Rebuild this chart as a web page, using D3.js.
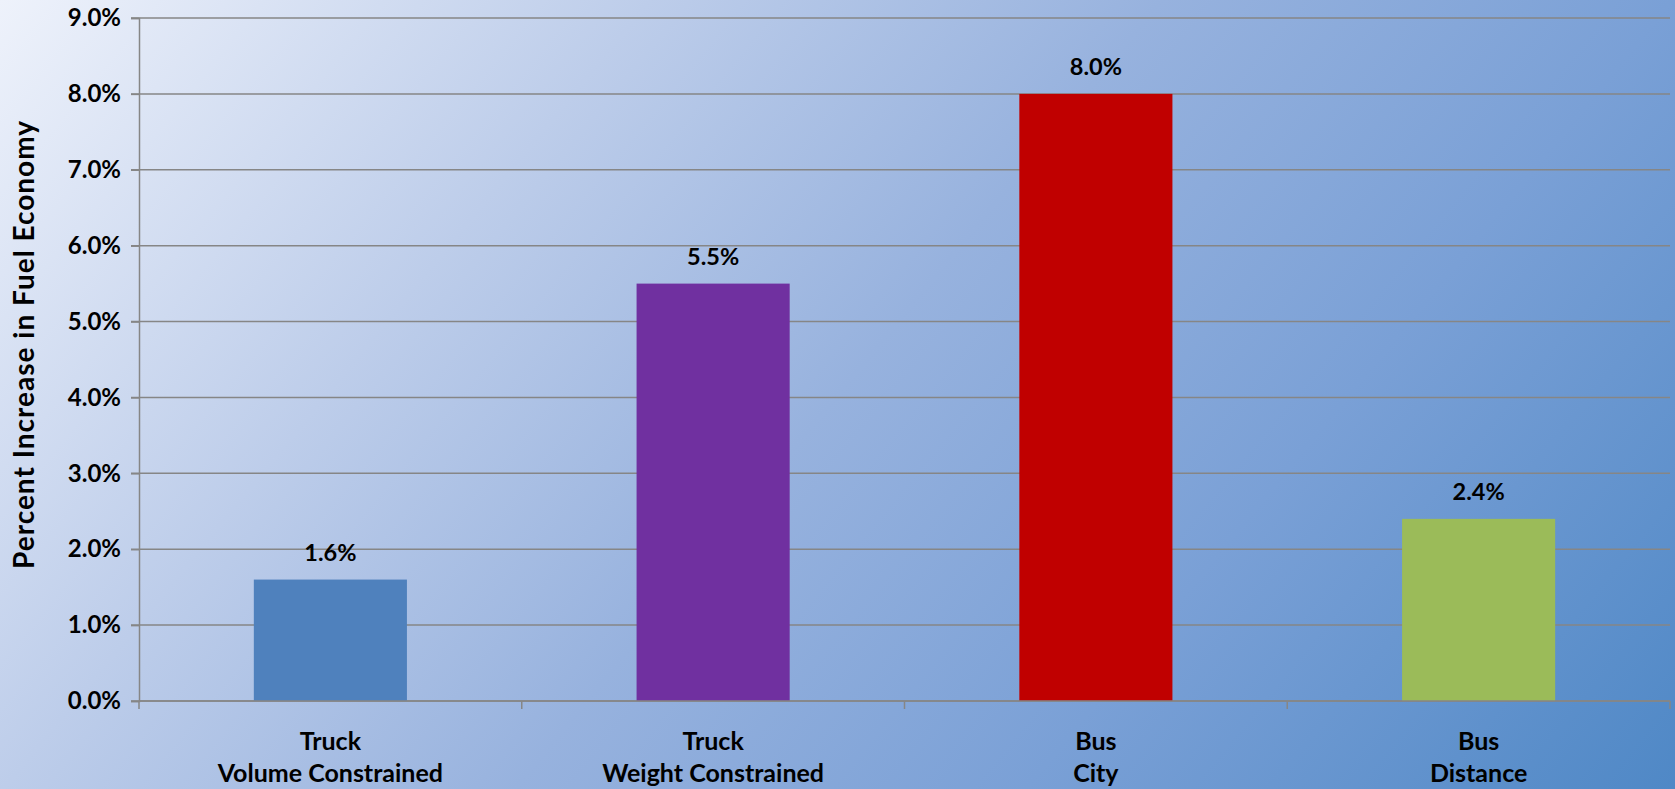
<!DOCTYPE html>
<html><head><meta charset="utf-8">
<script src="https://cdn.jsdelivr.net/npm/d3@7/dist/d3.min.js"></script>
<style>html,body{margin:0;padding:0;overflow:hidden}svg{display:block}</style>
</head><body>
<script>
const categoriesLine1 = ["Truck", "Truck", "Bus", "Bus"];
const categoriesLine2 = ["Volume Constrained", "Weight Constrained", "City", "Distance"];
const values = [0.016, 0.055, 0.080, 0.024];
const valueLabels = ["1.6%", "5.5%", "8.0%", "2.4%"];
const barColors = ["#4f81bd", "#7030a0", "#c00000", "#9bbb59"];
const yTicks = [0, 0.01, 0.02, 0.03, 0.04, 0.05, 0.06, 0.07, 0.08, 0.09];
const yTitle = "Percent Increase in Fuel Economy";

const W = 1675, H = 789;
const m = {left: 139, right: 5, top: 18, bottom: 88};
const font = "Lato, Carlito, 'Noto Sans', sans-serif";
const svg = d3.select("body").append("svg").attr("width", W).attr("height", H);
const defs = svg.append("defs");
const g0 = defs.append("linearGradient").attr("id","bg").attr("gradientUnits","userSpaceOnUse")
  .attr("x1",0).attr("y1",0).attr("x2",1389).attr("y2",1139);
[[0,"#eef2fb"],[0.28,"#bdcdea"],[0.5,"#97b2de"],[0.72,"#7aa0d6"],[1,"#4f88c6"]].forEach(s =>
  g0.append("stop").attr("offset",s[0]).attr("stop-color",s[1]));
svg.append("rect").attr("width",W).attr("height",H).attr("fill","url(#bg)");

const x = d3.scaleBand().domain(d3.range(values.length)).range([m.left, W - m.right]).paddingInner(0).paddingOuter(0);
const y = d3.scaleLinear().domain([0, 0.09]).range([H - m.bottom, m.top]);
const gridColor = "#868686";

// gridlines
svg.append("g").selectAll("line").data(yTicks).join("line")
  .attr("x1", m.left - 8).attr("x2", W - m.right)
  .attr("y1", d => y(d)).attr("y2", d => y(d))
  .attr("stroke", gridColor).attr("stroke-width", 1.5);

// y axis
const yAxis = svg.append("g").attr("transform", `translate(${m.left},0)`)
  .call(d3.axisLeft(y).tickValues(yTicks).tickFormat(d3.format(".1%")).tickSize(8).tickPadding(10));
yAxis.select(".domain").attr("stroke", gridColor).attr("stroke-width", 1.5);
yAxis.selectAll(".tick line").attr("stroke", gridColor).attr("stroke-width", 1.5);
yAxis.selectAll("text").attr("font-family", font).attr("font-weight", "bold").attr("font-size", 24).attr("fill", "#000");

// bars
const bw = x.bandwidth() * 0.4;
svg.append("g").selectAll("rect").data(values).join("rect")
  .attr("x", (d, i) => x(i) + (x.bandwidth() - bw) / 2)
  .attr("width", bw)
  .attr("y", d => y(d))
  .attr("height", d => y(0) - y(d))
  .attr("fill", (d, i) => barColors[i]);

// x axis
const xAxisG = svg.append("g").attr("transform", `translate(0,${y(0)})`);
xAxisG.append("line").attr("x1", m.left).attr("x2", W - m.right).attr("stroke", gridColor).attr("stroke-width", 1.5);
const xt = d3.range(values.length + 1).map(i => i < values.length ? x(i) : x(values.length - 1) + x.bandwidth());
xAxisG.selectAll("line.t").data(xt).join("line").attr("class","t")
  .attr("x1", d => d).attr("x2", d => d).attr("y1", 0).attr("y2", 8)
  .attr("stroke", gridColor).attr("stroke-width", 1.5);

// category labels
const cl = svg.append("g").selectAll("text").data(values).join("text")
  .attr("text-anchor", "middle").attr("font-family", font).attr("font-weight", "bold").attr("font-size", 25).attr("fill", "#000");
cl.append("tspan").attr("x", (d, i) => x(i) + x.bandwidth() / 2).attr("y", y(0) + 49).text((d, i) => categoriesLine1[i]);
cl.append("tspan").attr("x", (d, i) => x(i) + x.bandwidth() / 2).attr("y", y(0) + 81).text((d, i) => categoriesLine2[i]);

// value labels
svg.append("g").selectAll("text").data(values).join("text")
  .attr("x", (d, i) => x(i) + x.bandwidth() / 2)
  .attr("y", d => y(d) - 19)
  .attr("text-anchor", "middle").attr("font-family", font).attr("font-weight", "bold").attr("font-size", 23.5).attr("fill", "#000")
  .text((d, i) => valueLabels[i]);

// y title
svg.append("text").attr("transform", `translate(34,345) rotate(-90)`)
  .attr("text-anchor", "middle").attr("font-family", font).attr("font-weight", "bold").attr("font-size", 28).attr("fill", "#000")
  .attr("textLength", 448).attr("lengthAdjust", "spacing")
  .text(yTitle);
</script>
</body></html>
